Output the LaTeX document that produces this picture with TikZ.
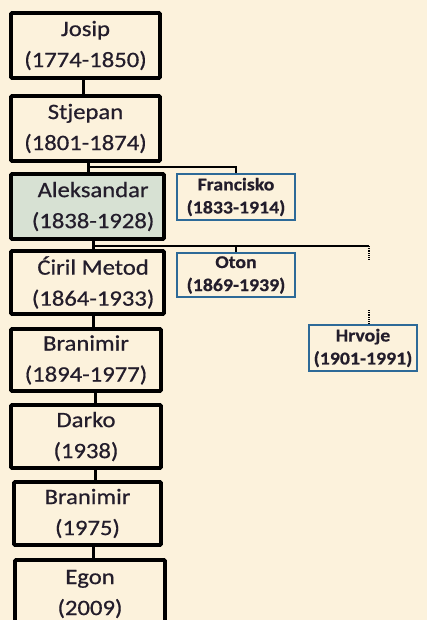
\documentclass[tikz,border=0pt]{standalone}
\usepackage{fontspec}
\setmainfont{Carlito}
\newfontfamily\heavy{Carlito}[FakeBold=0.6]
\newfontfamily\heavybold{Carlito Bold}[FakeBold=0.5]
\definecolor{cream}{HTML}{FCF2DC}
\definecolor{sage}{HTML}{D7E1D3}
\definecolor{sibblue}{HTML}{2D6A98}
\definecolor{ink}{HTML}{231D2B}
% slightly widened lettering
\newcommand\wl[1]{\scalebox{1.12}[1]{#1}}
\newcommand\ws[1]{\scalebox{1.1}[1]{#1}}
\tikzset{
  person/.style={draw=black, line width=3.8pt, rounded corners=1pt, fill=cream,
    align=center, text=ink, inner sep=0pt, font=\heavy\fontsize{22}{31}\selectfont},
  sibling/.style={draw=sibblue, line width=2pt, fill=cream, align=center,
    text=ink, inner sep=0pt, font=\heavybold\fontsize{18}{23}\selectfont},
  link/.style={line width=3pt},
  branch/.style={line width=2.2pt},
  gap/.style={line width=1.8pt, dash pattern=on 1pt off 0.8pt},
}
\begin{document}
\begin{tikzpicture}[x=1pt,y=-1pt]
\fill[cream] (0,0) rectangle (427,620);
\useasboundingbox (0,0) rectangle (427,620);

% main line of descent
\node[person, minimum width=149pt, minimum height=65pt] (josip) at (85.5,45.5)
  {\wl{Josip}\\\wl{(1774-1850)}};
\node[person, minimum width=149pt, minimum height=65pt] (stjepan) at (85.5,128.5)
  {\wl{Stjepan}\\\wl{(1801-1874)}};
\node[person, fill=sage, minimum width=153pt, minimum height=65pt] (aleksandar) at (87.5,206.5)
  {\wl{\hspace{10pt}Aleksandar}\\\wl{\hspace{10pt}(1838-1928)}};
\node[person, minimum width=153pt, minimum height=63pt] (ciril) at (87.5,282.5)
  {\wl{\hspace{10pt}Ćiril Metod}\\\wl{\hspace{10pt}(1864-1933)}};
\node[person, minimum width=150pt, minimum height=62pt] (branimir) at (86,360)
  {\wl{Branimir}\\\wl{(1894-1977)}};
\node[person, minimum width=150pt, minimum height=63pt] (darko) at (86,436.5)
  {\wl{Darko}\\\wl{(1938)}};
\node[person, minimum width=147pt, minimum height=63pt] (branimirb) at (87.5,513.5)
  {\wl{Branimir}\\\wl{(1975)}};
\node[person, minimum width=150pt, minimum height=96pt] (egon) at (90,608)
  {\wl{Egon}\\\wl{(2009)}\\\mbox{}};

% siblings
\node[sibling, minimum width=118pt, minimum height=46pt] (francisko) at (236,197)
  {\ws{Francisko}\\\ws{(1833-1914)}};
\node[sibling, minimum width=118pt, minimum height=44pt] (oton) at (236,275)
  {\ws{Oton}\\\ws{(1869-1939)}};
\node[sibling, minimum width=108pt, minimum height=46pt] (hrvoje) at (363,348)
  {\ws{Hrvoje}\\\ws{(1901-1991)}};

% connector positions
\coordinate (xa) at (83,0);
\coordinate (b1) at (88,167);
\coordinate (b2) at (93,246);
\coordinate (xc) at (95,0);
\coordinate (d1) at (369,246);
\coordinate (d2) at (369,260);
\coordinate (d3) at (369,310);

\draw[link] (josip.south -| xa) -- (stjepan.north -| xa);
\draw[link] (stjepan.south -| b1) -- (aleksandar.north -| b1);
\draw[branch] (b1) -| (francisko.north);
\draw[link] (aleksandar.south -| b2) -- (ciril.north -| b2);
\draw[branch] (b2) -- (d1);
\draw[branch] (b2 -| oton.north) -- (oton.north);
\draw[gap] (d1) -- (d2);
\draw[gap] (d3) -- (hrvoje.north -| d3);
\draw[link] (ciril.south -| b2) -- (branimir.north -| b2);
\draw[link] (branimir.south -| xc) -- (darko.north -| xc);
\draw[link] (darko.south -| xc) -- (branimirb.north -| xc);
\draw[link] (branimirb.south -| b2) -- (egon.north -| b2);
\end{tikzpicture}
\end{document}
